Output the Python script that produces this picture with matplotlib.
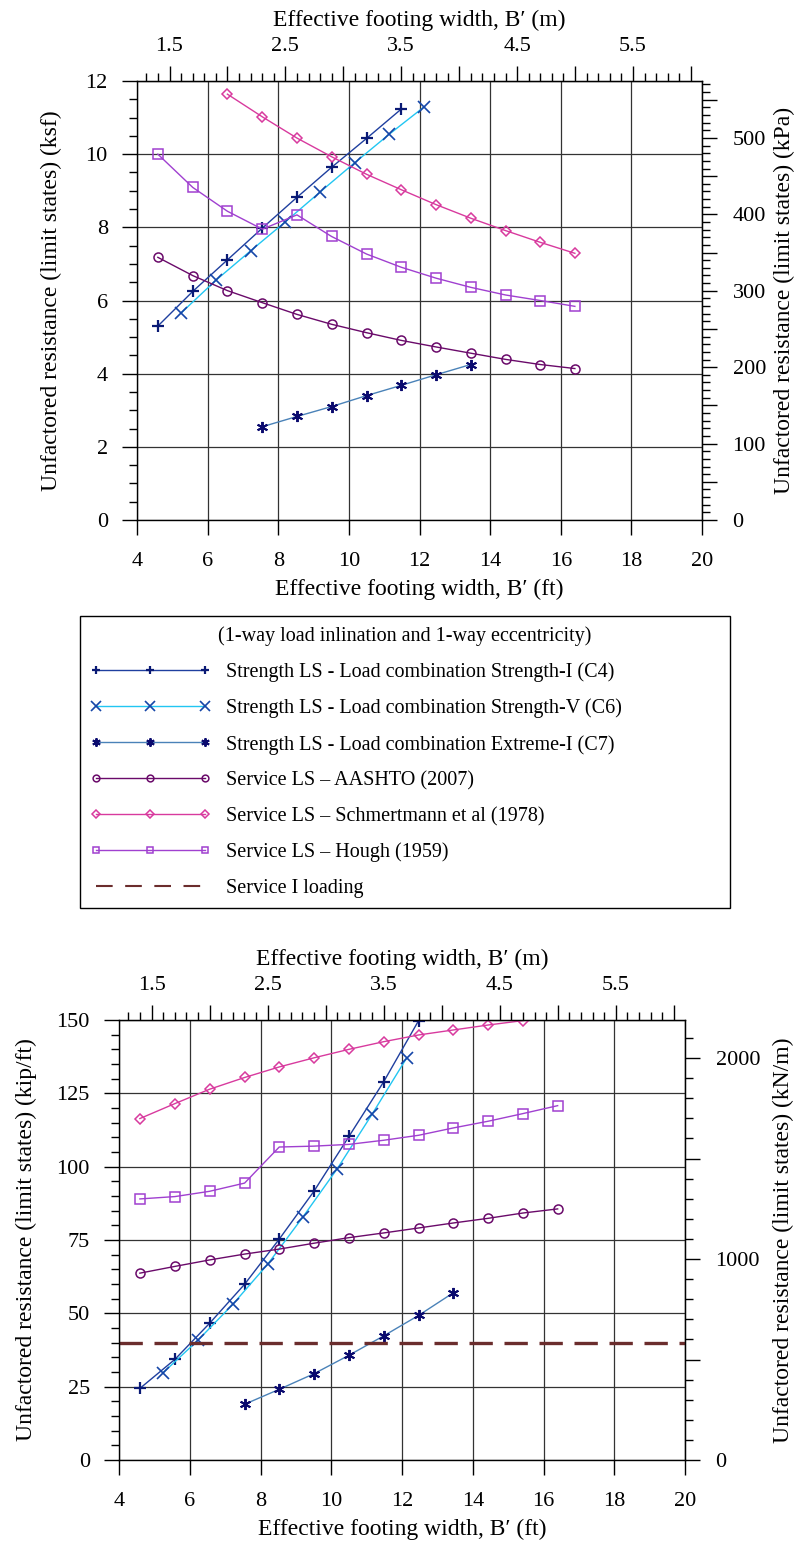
import matplotlib
matplotlib.use("Agg")
import matplotlib.pyplot as plt
from matplotlib.lines import Line2D
from matplotlib.ticker import MultipleLocator, FuncFormatter

plt.rcParams['font.family'] = ['Liberation Serif', 'DejaVu Serif']
plt.rcParams['font.size'] = 16
plt.rcParams['axes.labelsize'] = 17

FT_PER_M = 3.2808
KPA_PER_KSF = 47.880
KNM_PER_KIPFT = 14.5939

# effective footing width B' (ft) for each series
b_str1 = [4.59, 5.58, 6.56, 7.55, 8.53, 9.51, 10.50, 11.48]
b_str5 = [5.25, 6.23, 7.22, 8.20, 9.19, 10.17, 11.15, 12.14]
b_ext1 = [7.55, 8.53, 9.51, 10.50, 11.48, 12.47, 13.45]
b_serv = [4.59, 5.58, 6.56, 7.55, 8.53, 9.51, 10.50, 11.48, 12.47, 13.45, 14.44, 15.42, 16.40]
b_schm_top = [6.56, 7.55, 8.53, 9.51, 10.50, 11.48, 12.47, 13.45, 14.44, 15.42, 16.40]
b_schm_bot = [4.59, 5.58, 6.56, 7.55, 8.53, 9.51, 10.50, 11.48, 12.47, 13.45, 14.44, 15.42]
b_str1_bot = [4.59, 5.58, 6.56, 7.55, 8.53, 9.51, 10.50, 11.48, 12.47]

# top chart: unfactored resistance (ksf)
q_str1 = [5.30, 6.25, 7.11, 7.98, 8.82, 9.64, 10.43, 11.23]
q_str5 = [5.66, 6.55, 7.36, 8.15, 8.97, 9.77, 10.55, 11.30]
q_ext1 = [2.55, 2.83, 3.10, 3.40, 3.68, 3.97, 4.25]
q_aashto = [7.18, 6.68, 6.27, 5.94, 5.62, 5.35, 5.12, 4.91, 4.73, 4.56, 4.39, 4.25, 4.14]
q_schm = [11.64, 11.02, 10.44, 9.93, 9.45, 9.03, 8.62, 8.25, 7.91, 7.59, 7.29]
q_hough = [10.00, 9.09, 8.44, 7.95, 8.34, 7.75, 7.27, 6.91, 6.61, 6.36, 6.15, 6.00, 5.84]

# bottom chart: unfactored resistance (kip/ft)
p_str1 = [24.4, 34.3, 46.6, 59.9, 75.3, 91.6, 110.3, 128.9, 149.8]
p_str5 = [29.8, 40.8, 53.1, 66.7, 82.7, 99.3, 117.8, 137.2]
p_ext1 = [19.0, 24.1, 29.4, 35.7, 42.3, 49.3, 57.0]
p_aashto = [63.7, 66.0, 68.2, 70.2, 71.9, 73.9, 75.8, 77.4, 79.1, 80.8, 82.4, 84.2, 85.6]
p_schm = [116.4, 121.5, 126.4, 130.4, 134.0, 137.1, 140.0, 142.6, 144.9, 146.6, 148.3, 149.8]
p_hough = [89.0, 89.8, 91.6, 94.4, 106.7, 107.0, 107.6, 109.0, 110.7, 113.2, 115.5, 118.1, 120.8]
service_i_load = 40.0

labels = [
    "Strength LS - Load combination Strength-I (C4)",
    "Strength LS - Load combination Strength-V (C6)",
    "Strength LS - Load combination Extreme-I (C7)",
    "Service LS \u2013 AASHTO (2007)",
    "Service LS \u2013 Schmertmann et al (1978)",
    "Service LS \u2013 Hough (1959)",
    "Service I loading",
]

ASTER = (6, 2, 0)
styles = [
    dict(color='#1f3f9f', marker='+', ms=8, mew=1.6, mec='#0a1a75'),
    dict(color='#22c6f2', marker='x', ms=9, mew=1.2, mec='#1546a8'),
    dict(color='#4a82b8', marker=ASTER, ms=8, mew=1.4, mec='#0a0a6e'),
    dict(color='#6a0a6a', marker='o', ms=6.5, mew=1.1, mfc='none'),
    dict(color='#d83a9e', marker='D', ms=5, mew=1.1, mfc='none'),
    dict(color='#a040d0', marker='s', ms=6.5, mew=1.1, mfc='none'),
]
SERV_COLOR = '#6b2d2d'
GRID = '#333333'


def style_axes(ax, ymax, ystep, yminor, conv, rmajor, rlabel_step, rminor,
               ylabel, rlabel, lpad, rpad):
    ax.set_xlim(4, 20)
    ax.set_ylim(0, ymax)
    ax.xaxis.set_major_locator(MultipleLocator(2))
    ax.yaxis.set_major_locator(MultipleLocator(ystep))
    ax.yaxis.set_minor_locator(MultipleLocator(yminor))
    ax.grid(True, which='major', color=GRID, lw=0.9)
    ax.set_axisbelow(True)
    ax.tick_params(which='major', direction='out', length=11, width=1)
    ax.tick_params(which='minor', direction='out', length=5.5, width=1)
    ax.tick_params(axis='y', which='major', pad=10)
    ax.tick_params(axis='x', which='major', pad=12)
    ax.set_xlabel("Effective footing width, B\u2032 (ft)", labelpad=6)
    ax.set_ylabel(ylabel, labelpad=lpad)
    for s in ax.spines.values():
        s.set_linewidth(1.0)

    top = ax.secondary_xaxis('top', functions=(lambda x: x / FT_PER_M, lambda m: m * FT_PER_M))
    top.xaxis.set_major_locator(MultipleLocator(0.5))
    top.xaxis.set_minor_locator(MultipleLocator(0.1))
    top.xaxis.set_major_formatter(FuncFormatter(
        lambda v, p: '' if abs(v - round(v)) < 1e-6 else f"{v:.1f}"))
    top.tick_params(which='major', direction='out', length=11, width=1, pad=7)
    top.tick_params(which='minor', direction='out', length=5.5, width=1)
    top.set_xlabel("Effective footing width, B\u2032 (m)", labelpad=8)

    right = ax.secondary_yaxis('right', functions=(lambda q: q * conv, lambda v: v / conv))
    right.yaxis.set_major_locator(MultipleLocator(rmajor))
    right.yaxis.set_minor_locator(MultipleLocator(rminor))
    right.yaxis.set_major_formatter(FuncFormatter(
        lambda v, p: f"{v:.0f}" if abs(v / rlabel_step - round(v / rlabel_step)) < 1e-6 else ''))
    right.tick_params(which='major', direction='out', length=11, width=1, pad=11)
    right.tick_params(which='minor', direction='out', length=5.5, width=1)
    right.set_ylabel(rlabel, labelpad=rpad)


fig = plt.figure(figsize=(8.09, 15.5), dpi=100)

# top chart (ksf)
ax1 = fig.add_axes([137 / 809, 1 - 520 / 1550, 565 / 809, 439 / 1550])
top_series = [(b_str1, q_str1), (b_str5, q_str5), (b_ext1, q_ext1),
              (b_serv, q_aashto), (b_schm_top, q_schm), (b_serv, q_hough)]
handles = []
for (bx, qy), st, lab in zip(top_series, styles, labels):
    h, = ax1.plot(bx, qy, lw=1.0, label=lab, **st)
    handles.append(h)
style_axes(ax1, 12, 2, 0.5, KPA_PER_KSF, 50, 100, 10,
           "Unfactored resistance (limit states) (ksf)",
           "Unfactored resistance (limit states) (kPa)", 17, 6)

# bottom chart (kip/ft)
ax2 = fig.add_axes([119 / 809, 1 - 1460 / 1550, 566 / 809, 440 / 1550])
bot_series = [(b_str1_bot, p_str1), (b_str5, p_str5), (b_ext1, p_ext1),
              (b_serv, p_aashto), (b_schm_bot, p_schm), (b_serv, p_hough)]
for (bx, py), st in zip(bot_series, styles):
    ax2.plot(bx, py, lw=1.0, **st)
ax2.axhline(service_i_load, color=SERV_COLOR, lw=2.4, ls=(0, (7, 3.5)))
style_axes(ax2, 150, 25, 5, KNM_PER_KIPFT, 500, 1000, 100,
           "Unfactored resistance (limit states) (kip/ft)",
           "Unfactored resistance (limit states) (kN/m)", 14, 9)

handles.append(Line2D([], [], color=SERV_COLOR, lw=1.5, ls=(0, (8, 6))))

leg = fig.legend(handles, labels,
                 title="(1-way load inlination and 1-way eccentricity)",
                 loc='center',
                 bbox_to_anchor=(80 / 809, 1 - 905 / 1550, 650 / 809, 286 / 1550),
                 mode='expand', borderaxespad=0, numpoints=3, markerscale=0.75,
                 handlelength=6.0, handletextpad=0.75, labelspacing=0.82,
                 borderpad=0.5, fancybox=False, framealpha=1,
                 edgecolor='black', fontsize=14.5, title_fontsize=14.5)
leg.get_frame().set_linewidth(1.0)

fig.savefig("out.png", dpi=100)
